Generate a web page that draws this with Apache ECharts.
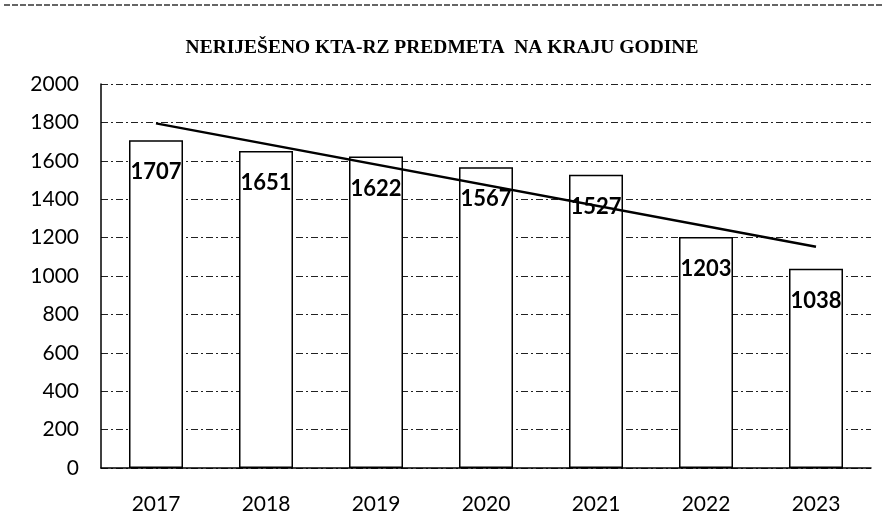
<!DOCTYPE html>
<html>
<head>
<meta charset="utf-8">
<script src="https://cdn.jsdelivr.net/npm/echarts@6/dist/echarts.min.js"></script>
<style>
  html, body { margin: 0; padding: 0; background: #fff; }
</style>
</head>
<body>
<div id="main" style="width: 884px; height: 527px;"></div>
<script>
var years = ['2017', '2018', '2019', '2020', '2021', '2022', '2023'];
var unresolved = [1707, 1651, 1622, 1567, 1527, 1203, 1038];
// trend line (end points only)
var trend = [1795, null, null, null, null, null, 1152];
var yTicks = [0, 200, 400, 600, 800, 1000, 1200, 1400, 1600, 1800, 2000];

var myChart = echarts.init(document.getElementById('main'));

myChart.setOption({
    backgroundColor: '#fff',
    animation: false,
    title: {
        text: 'NERIJEŠENO KTA-RZ PREDMETA  NA KRAJU GODINE',
        left: 'center',
        top: 33,
        textStyle: {
            fontFamily: 'Liberation Serif',
            fontWeight: 'bold',
            fontSize: 19.5,
            color: '#000'
        }
    },
    graphic: [{
        type: 'line',
        shape: { x1: 4, y1: 5, x2: 884, y2: 5 },
        style: { stroke: '#333', lineWidth: 1.5, lineDash: [6, 2] }
    }],
    grid: { left: 101, right: 13, top: 84, bottom: 59 },
    xAxis: {
        type: 'category',
        data: years,
        axisTick: { show: false },
        axisLine: { lineStyle: { color: '#000', width: 1.5 } },
        axisLabel: {
            margin: 26,
            fontFamily: 'Lato',
            fontSize: 21,
            color: '#000'
        }
    },
    yAxis: {
        type: 'value',
        min: yTicks[0],
        max: yTicks[yTicks.length - 1],
        interval: 200,
        axisLine: { show: true, lineStyle: { color: '#000', width: 1.5 } },
        axisTick: { show: false },
        axisLabel: {
            margin: 22,
            fontFamily: 'Lato',
            fontSize: 21,
            color: '#000',
            formatter: function (v) { return String(v); }
        },
        splitLine: { lineStyle: { color: '#222', width: 1, type: [7, 3, 2, 3] } }
    },
    series: [{
        type: 'bar',
        data: unresolved,
        barWidth: 54,
        itemStyle: { color: '#fff', borderColor: '#000', borderWidth: 1.5 },
        label: {
            show: true,
            position: 'insideTop',
            distance: 21,
            fontFamily: 'Lato',
            fontWeight: 'bold',
            fontSize: 22,
            color: '#000'
        }
    }, {
        type: 'line',
        data: trend,
        connectNulls: true,
        symbol: 'none',
        lineStyle: { color: '#000', width: 2.5 },
        z: 5
    }]
});
</script>
</body>
</html>
